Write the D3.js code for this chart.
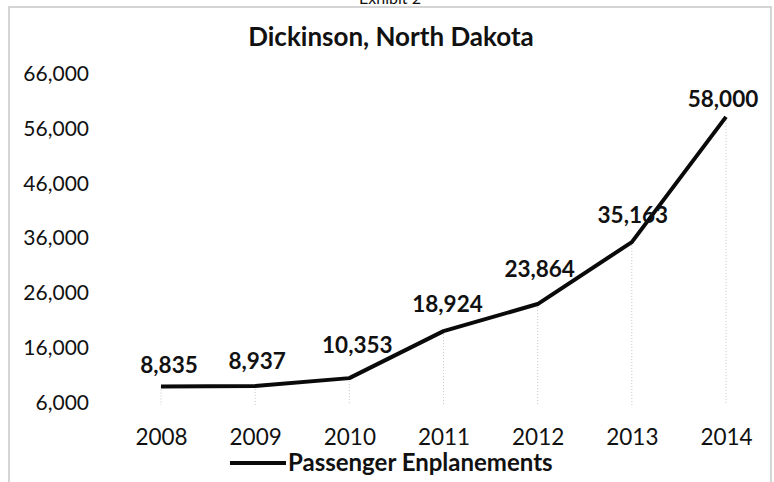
<!DOCTYPE html>
<html>
<head>
<meta charset="utf-8">
<script src="https://cdn.jsdelivr.net/npm/d3@7"></script>
<style>
  body { margin: 0; background: #fff; }
  svg text { font-family: Lato, "Open Sans", sans-serif; fill: #111; }
</style>
</head>
<body>
<div id="chart-container"></div>
<script>
// Chart data
const years = ['2008', '2009', '2010', '2011', '2012', '2013', '2014'];
const enplanements = [8835, 8937, 10353, 18924, 23864, 35163, 58000];
const yTicks = [6000, 16000, 26000, 36000, 46000, 56000, 66000];
const seriesName = 'Passenger Enplanements';
const chartTitle = 'Dickinson, North Dakota';

const svgWidth = 774;
const svgHeight = 482;

const svg = d3.select('#chart-container')
  .append('svg')
  .attr('width', svgWidth)
  .attr('height', svgHeight);

// Frame around the chart
svg.append('rect')
  .attr('x', 9).attr('y', 7)
  .attr('width', 762).attr('height', 490)
  .attr('fill', 'none')
  .attr('stroke', '#c8c8c8')
  .attr('stroke-width', 1.5);

// Cut-off heading above the frame
svg.append('text')
  .attr('x', 390).attr('y', 4)
  .attr('text-anchor', 'middle')
  .style('font-size', '16px')
  .text('Exhibit 2');

// Scales
const xScale = d3.scalePoint().domain(years).range([161, 726]);
const yScale = d3.scaleLinear().domain([6000, 66000]).range([402, 73]);

// Title
svg.append('text')
  .attr('x', 391).attr('y', 46)
  .attr('text-anchor', 'middle')
  .style('font-size', '26px')
  .style('font-weight', 'bold')
  .text(chartTitle);

// Y axis labels
const yAxis = svg.append('g')
  .attr('transform', 'translate(89,0)')
  .call(d3.axisLeft(yScale).tickValues(yTicks).tickSize(0).tickPadding(0)
    .tickFormat(d3.format(',')));
yAxis.select('.domain').remove();
yAxis.selectAll('text')
  .style('font-size', '21px')
  .attr('dy', '0.35em');

// X axis labels
const xAxis = svg.append('g')
  .attr('transform', 'translate(0,437)')
  .call(d3.axisBottom(xScale).tickSize(0).tickPadding(0));
xAxis.select('.domain').remove();
xAxis.selectAll('text')
  .style('font-size', '22.5px')
  .attr('dy', '0.35em');

// Dotted drop lines
svg.selectAll('.drop')
  .data(years)
  .enter()
  .append('line')
  .attr('class', 'drop')
  .attr('x1', d => xScale(d))
  .attr('x2', d => xScale(d))
  .attr('y1', (d, i) => yScale(enplanements[i]))
  .attr('y2', 405)
  .attr('stroke', '#c4c4c4')
  .attr('stroke-width', 1)
  .attr('stroke-dasharray', '1,2');

// Line
const line = d3.line()
  .x((d, i) => xScale(years[i]))
  .y(d => yScale(d));

svg.append('path')
  .datum(enplanements)
  .attr('d', line)
  .attr('fill', 'none')
  .attr('stroke', '#0a0a0a')
  .attr('stroke-width', 4)
  .attr('stroke-linejoin', 'round');

// Data labels (hand-placed nudges, as in the original)
const labelDx = [8, 2, 8, 4, 2, 1, -3];
const labelDy = [13, 17, 25, 19, 27, 19, 10];
svg.selectAll('.value-label')
  .data(enplanements)
  .enter()
  .append('text')
  .attr('class', 'value-label')
  .attr('x', (d, i) => xScale(years[i]) + labelDx[i])
  .attr('y', (d, i) => yScale(d) - labelDy[i])
  .attr('text-anchor', 'middle')
  .style('font-size', '22.5px')
  .style('font-weight', 'bold')
  .text(d3.format(','));

// Legend
svg.append('line')
  .attr('x1', 230).attr('x2', 286)
  .attr('y1', 463).attr('y2', 463)
  .attr('stroke', '#0a0a0a')
  .attr('stroke-width', 4);

svg.append('text')
  .attr('x', 288).attr('y', 463)
  .attr('dy', '0.35em')
  .style('font-size', '24px')
  .style('font-weight', 'bold')
  .text(seriesName);
</script>
</body>
</html>
